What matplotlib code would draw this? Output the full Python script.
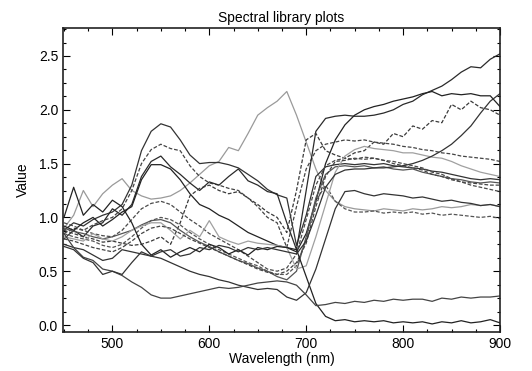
import matplotlib
matplotlib.use("Agg")
import matplotlib.pyplot as plt
from matplotlib.ticker import MultipleLocator

plt.rcParams['font.family'] = ['Liberation Sans', 'DejaVu Sans']

# wavelength grid (nm), one value every 10 nm
wavelength = list(range(450, 901, 10))

# spectra
spec_a = [0.90, 1.02, 1.25, 1.10, 1.22, 1.30, 1.36, 1.25, 1.20, 1.17, 1.18, 1.20, 1.25, 1.32, 1.40, 1.48,
          1.52, 1.65, 1.62, 1.78, 1.95, 2.02, 2.08, 2.17, 1.95, 1.70, 1.45, 1.25, 1.15, 1.10, 1.08, 1.07,
          1.06, 1.08, 1.07, 1.06, 1.08, 1.07, 1.08, 1.10, 1.09, 1.10, 1.12, 1.11, 1.12, 1.10]
spec_b = [0.88, 0.95, 0.92, 0.98, 1.02, 1.05, 1.12, 1.30, 1.62, 1.80, 1.87, 1.84, 1.72, 1.58, 1.50, 1.51,
          1.51, 1.49, 1.46, 1.40, 1.34, 1.26, 1.21, 1.18, 0.74, 1.02, 1.38, 1.47, 1.49, 1.50, 1.49, 1.50,
          1.49, 1.50, 1.48, 1.47, 1.46, 1.45, 1.43, 1.42, 1.40, 1.38, 1.36, 1.35, 1.36, 1.35]
spec_c = [0.85, 0.90, 0.88, 0.93, 0.97, 1.00, 1.08, 1.25, 1.50, 1.63, 1.68, 1.64, 1.62, 1.48, 1.38, 1.32,
          1.30, 1.27, 1.25, 1.18, 1.10, 1.00, 0.95, 0.72, 1.10, 1.45, 1.62, 1.68, 1.70, 1.72, 1.71, 1.72,
          1.70, 1.69, 1.68, 1.66, 1.65, 1.63, 1.62, 1.60, 1.59, 1.57, 1.56, 1.55, 1.54, 1.52]
spec_d = [0.80, 0.88, 0.82, 0.92, 0.95, 1.08, 1.02, 1.12, 1.38, 1.52, 1.57, 1.47, 1.40, 1.32, 1.25, 1.33,
          1.30, 1.38, 1.45, 1.34, 1.30, 1.24, 1.22, 0.95, 0.70, 1.25, 1.80, 1.92, 1.94, 1.95, 1.94, 1.94,
          1.95, 1.97, 2.00, 2.05, 2.08, 2.14, 2.18, 2.22, 2.28, 2.35, 2.40, 2.39, 2.47, 2.52]
spec_e = [0.92, 0.88, 0.95, 1.00, 0.92, 0.98, 1.05, 1.10, 1.35, 1.49, 1.49, 1.45, 1.35, 1.22, 1.12, 1.08,
          1.02, 0.98, 0.92, 0.86, 0.82, 0.78, 0.74, 0.72, 0.68, 0.85, 1.15, 1.50, 1.72, 1.86, 1.95, 2.00,
          2.03, 2.05, 2.08, 2.10, 2.12, 2.15, 2.17, 2.13, 2.15, 2.14, 2.15, 2.13, 2.13, 2.03]
spec_f = [0.95, 0.92, 0.88, 0.85, 0.83, 0.82, 0.88, 0.98, 1.08, 1.13, 1.15, 1.12, 1.05, 0.98, 0.92, 0.85,
          0.80, 0.75, 0.70, 0.64, 0.58, 0.52, 0.50, 0.53, 0.66, 0.98, 1.30, 1.48, 1.53, 1.55, 1.54, 1.56,
          1.55, 1.53, 1.52, 1.50, 1.48, 1.46, 1.42, 1.40, 1.36, 1.33, 1.30, 1.28, 1.26, 1.24]
spec_g = [0.88, 0.85, 0.82, 0.80, 0.77, 0.78, 0.76, 0.74, 0.75, 0.78, 0.82, 0.75, 0.95, 1.20, 1.27, 1.30,
          1.25, 1.22, 1.24, 1.18, 1.12, 1.05, 1.00, 0.86, 1.25, 1.72, 1.78, 1.62, 1.58, 1.55, 1.60, 1.62,
          1.70, 1.68, 1.78, 1.75, 1.85, 1.82, 1.90, 1.88, 2.05, 2.00, 2.08, 2.02, 2.00, 1.95]
spec_h = [0.85, 0.82, 0.80, 0.78, 0.74, 0.72, 0.75, 0.82, 0.90, 0.97, 1.00, 0.98, 0.93, 0.86, 0.80, 0.75,
          0.70, 0.66, 0.62, 0.58, 0.55, 0.50, 0.47, 0.47, 0.55, 0.80, 1.15, 1.30, 1.15, 1.08, 1.05, 1.05,
          1.06, 1.04, 1.05, 1.04, 1.05, 1.03, 1.04, 1.02, 1.03, 1.02, 1.01, 1.00, 1.01, 0.99]
spec_i = [0.90, 0.87, 0.85, 0.82, 0.80, 0.82, 0.85, 0.88, 0.93, 0.97, 0.98, 0.95, 0.88, 0.82, 0.77, 0.73,
          0.68, 0.64, 0.60, 0.57, 0.53, 0.50, 0.45, 0.42, 0.50, 0.82, 1.18, 1.40, 1.47, 1.48, 1.47, 1.48,
          1.46, 1.47, 1.45, 1.44, 1.45, 1.42, 1.40, 1.38, 1.36, 1.35, 1.33, 1.32, 1.33, 1.32]
spec_j = [0.82, 0.80, 0.78, 0.85, 0.80, 0.78, 0.82, 0.88, 0.92, 0.95, 0.95, 0.88, 0.80, 0.88, 0.82, 0.97,
          0.82, 0.78, 0.75, 0.78, 0.76, 0.75, 0.74, 0.72, 0.52, 0.55, 0.82, 1.12, 1.42, 1.57, 1.63, 1.66,
          1.64, 1.63, 1.62, 1.60, 1.60, 1.58, 1.56, 1.55, 1.52, 1.48, 1.45, 1.42, 1.40, 1.38]
spec_k = [0.80, 0.78, 0.75, 0.72, 0.70, 0.68, 0.72, 0.78, 0.85, 0.90, 0.92, 0.90, 0.85, 0.80, 0.76, 0.72,
          0.68, 0.64, 0.60, 0.56, 0.52, 0.49, 0.47, 0.50, 0.58, 0.76, 1.10, 1.38, 1.52, 1.53, 1.55, 1.54,
          1.55, 1.53, 1.50, 1.48, 1.46, 1.44, 1.40, 1.38, 1.35, 1.33, 1.32, 1.31, 1.30, 1.30]
spec_l = [1.00, 1.28, 1.02, 1.12, 1.05, 1.16, 1.10, 0.95, 0.75, 0.65, 0.70, 0.63, 0.68, 0.72, 0.68, 0.75,
          0.72, 0.66, 0.70, 0.65, 0.72, 0.70, 0.73, 0.72, 0.70, 0.45, 0.20, 0.08, 0.04, 0.05, 0.03, 0.04,
          0.03, 0.04, 0.02, 0.03, 0.02, 0.03, 0.01, 0.03, 0.02, 0.04, 0.02, 0.03, 0.05, 0.02]
spec_m = [0.75, 0.72, 0.70, 0.65, 0.60, 0.62, 0.70, 0.68, 0.66, 0.64, 0.62, 0.58, 0.54, 0.50, 0.47, 0.45,
          0.42, 0.40, 0.37, 0.35, 0.33, 0.34, 0.33, 0.26, 0.23, 0.30, 0.52, 0.80, 1.08, 1.24, 1.25, 1.22,
          1.20, 1.22, 1.21, 1.20, 1.18, 1.19, 1.17, 1.15, 1.16, 1.14, 1.13, 1.11, 1.12, 1.10]
spec_n = [0.85, 0.72, 0.63, 0.60, 0.52, 0.50, 0.46, 0.40, 0.35, 0.28, 0.25, 0.25, 0.27, 0.29, 0.31, 0.33,
          0.35, 0.34, 0.35, 0.37, 0.39, 0.40, 0.41, 0.40, 0.37, 0.28, 0.18, 0.19, 0.21, 0.20, 0.22, 0.21,
          0.23, 0.22, 0.24, 0.23, 0.24, 0.24, 0.22, 0.25, 0.24, 0.26, 0.25, 0.26, 0.26, 0.27]
spec_o = [0.73, 0.70, 0.62, 0.58, 0.47, 0.50, 0.47, 0.58, 0.68, 0.64, 0.68, 0.70, 0.64, 0.66, 0.72, 0.70,
          0.74, 0.72, 0.68, 0.72, 0.70, 0.72, 0.70, 0.68, 0.66, 0.78, 1.02, 1.28, 1.40, 1.44, 1.45, 1.45,
          1.46, 1.46, 1.47, 1.48, 1.50, 1.53, 1.57, 1.62, 1.68, 1.76, 1.85, 1.97, 2.08, 2.15]

spectra = [spec_a, spec_b, spec_c, spec_d, spec_e, spec_f, spec_g, spec_h,
           spec_i, spec_j, spec_k, spec_l, spec_m, spec_n, spec_o]
colors = ["#9a9a9a", "#333333", "#444444", "#2a2a2a", "#222222", "#4a4a4a", "#3a3a3a", "#555555",
          "#555555", "#a0a0a0", "#444444", "#222222", "#333333", "#444444", "#333333"]
styles = ["-", "-", "--", "-", "-", "--", "--", "--",
          "-", "-", "--", "-", "-", "-", "-"]

fig = plt.figure(figsize=(5.32, 3.71), dpi=100)
ax = fig.add_axes([0.1184, 0.1051, 0.8214, 0.8194])

for spec, col, ls in zip(spectra, colors, styles):
    ax.plot(wavelength, spec, color=col, linestyle=ls, linewidth=0.9,
            dashes=(3, 1.5) if ls == "--" else (None, None))

ax.set_xlim(449, 900)
ax.set_ylim(-0.065, 2.76)
ax.xaxis.set_major_locator(MultipleLocator(100))
ax.xaxis.set_minor_locator(MultipleLocator(25))
ax.yaxis.set_major_locator(MultipleLocator(0.5))
ax.yaxis.set_minor_locator(MultipleLocator(0.125))
ax.tick_params(which="both", direction="in", top=True, right=True, labelsize=10, width=0.8)
ax.tick_params(which="major", length=5)
ax.tick_params(which="minor", length=2.5)
for sp in ax.spines.values():
    sp.set_linewidth(1.2)
    sp.set_color("#222222")

ax.set_xlabel("Wavelength (nm)", fontsize=10, labelpad=1)
ax.set_ylabel("Value", fontsize=10, labelpad=6)
ax.set_title("Spectral library plots", fontsize=10, pad=4)

fig.savefig("out.png", dpi=100)
